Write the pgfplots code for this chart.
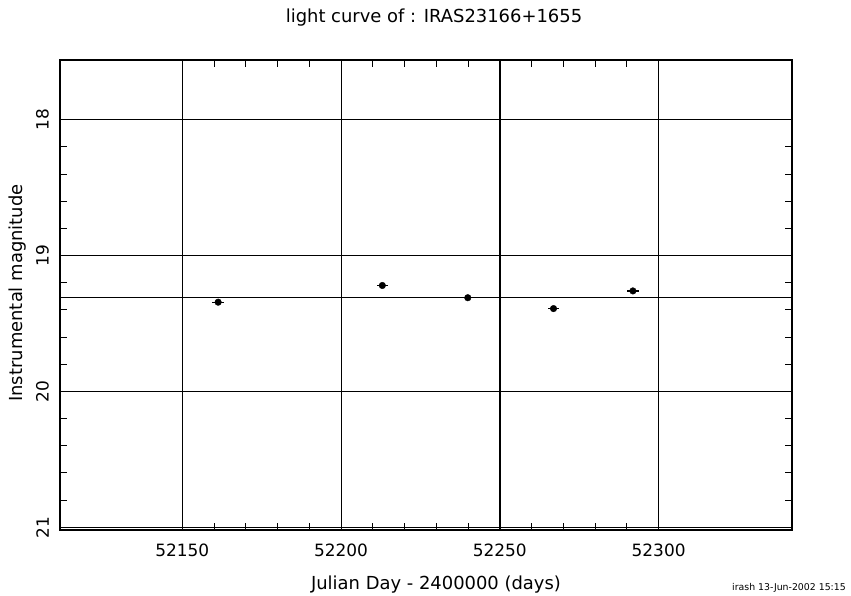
\documentclass[border=0pt]{standalone}
\usepackage{fontspec}
\setmainfont{DejaVu Sans}
\usepackage{pgfplots}
\pgfplotsset{compat=1.18}
\begin{document}
\begin{tikzpicture}[x=1bp,y=1bp]
\useasboundingbox (0,0) rectangle (851,596);
\begin{axis}[
  at={(60bp,66bp)}, anchor=south west,
  scale only axis, width=732bp, height=470bp,
  xmin=52111.5, xmax=52342, ymin=17.56, ymax=21.02, y dir=reverse,
  xtick={52150,52200,52250,52300}, ytick={18,19,20,21},
  xticklabels={52150,52200,52250,52300},
  scaled x ticks=false,
  minor x tick num=4, minor y tick num=4,
  xmajorgrids, ymajorgrids,
  grid style={black, line width=0.7bp, solid},
  tick align=inside, xtick pos=both, ytick pos=both,
  major tick length=11bp, minor tick length=7bp,
  tick style={black, line width=0.9bp},
  axis line style={black, line width=1.6bp},
  /pgf/number format/assume math mode=true,
  /pgf/number format/1000 sep={},
  ticklabel style={font=\fontsize{17}{20}\selectfont, inner sep=0pt},
  xticklabel shift=14bp,
  yticklabel shift=11bp,
  yticklabel style={rotate=90, anchor=south},
  clip=false,
]
% mean magnitude line
\addplot[black, line width=0.7bp] coordinates {(52111.5,19.305) (52342,19.305)};
% marker line at 52250
\addplot[black, line width=1.8bp] coordinates {(52250,17.56) (52250,21.02)};
% measurements
\addplot[only marks, mark=*, mark size=3.3bp, black,
  error bars/.cd, x dir=both, x explicit, error bar style={line width=1.2bp}, error mark=none]
  coordinates {
  (52161.3,19.343) +- (1.8,0)
  (52213.0,19.220) +- (1.8,0)
  (52239.9,19.310) +- (1.8,0)
  (52266.9,19.390) +- (1.8,0)
  (52291.9,19.260) +- (1.8,0)
};
\end{axis}
\node[font=\fontsize{18}{21}\selectfont, anchor=base] at (434,573) {light curve of : IRAS23166+1655};
\node[font=\fontsize{18}{21}\selectfont, anchor=base] at (436,6.5) {Julian Day - 2400000 (days)};
\node[font=\fontsize{18}{21}\selectfont, anchor=base, rotate=90] at (22,303) {Instrumental magnitude};
\node[font=\fontsize{9.4}{11}\selectfont, anchor=base west, inner sep=0pt] at (732,5.5) {irash 13-Jun-2002 15:15};
\end{tikzpicture}
\end{document}
